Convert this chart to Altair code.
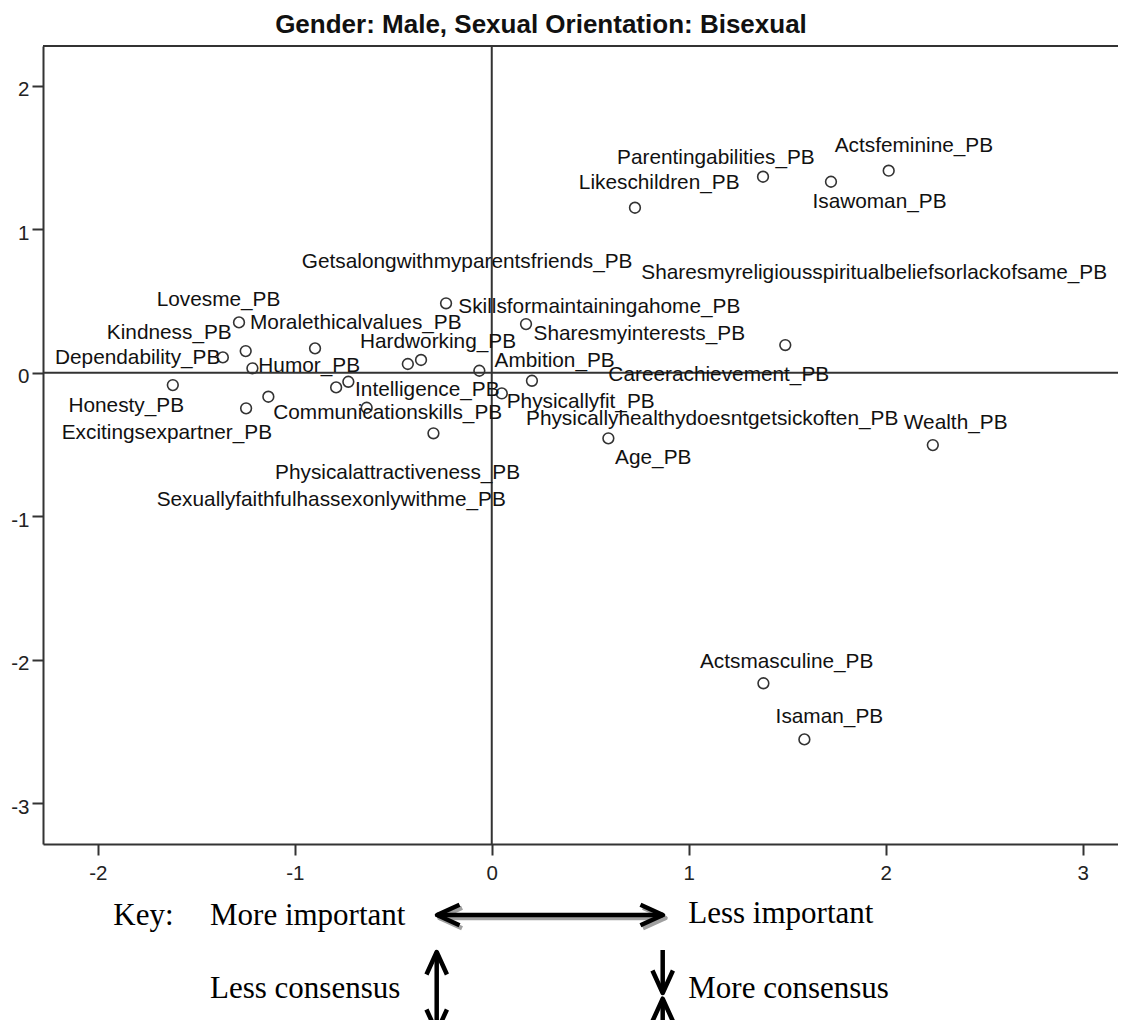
import altair as alt
import pandas as pd

# ---------------- data ----------------
names = [
    "Actsfeminine_PB", "Isawoman_PB", "Parentingabilities_PB", "Likeschildren_PB",
    "Skillsformaintainingahome_PB", "Sharesmyinterests_PB", "Dependability_PB", "Humor_PB",
    "Physicallyfit_PB", "Age_PB", "Wealth_PB", "Actsmasculine_PB", "Isaman_PB",
    "Lovesme_PB", "Kindness_PB", "Moralethicalvalues_PB", "Getsalongwithmyparentsfriends_PB",
    "Hardworking_PB", "Ambition_PB", "Honesty_PB", "Intelligence_PB", "Careerachievement_PB",
    "Communicationskills_PB", "Physicallyhealthydoesntgetsickoften_PB", "Excitingsexpartner_PB",
    "Sexuallyfaithfulhassexonlywithme_PB", "Physicalattractiveness_PB",
    "Sharesmyreligiousspiritualbeliefsorlackofsame_PB",
]
dim1 = [2.015, 1.722, 1.377, 0.727, -0.232, 0.174, -1.365, -1.215, 0.051, 0.592, 2.239,
        1.379, 1.587, -1.283, -1.249, -0.897, -0.426, -0.359, -0.063, -1.619, -0.728,
        0.204, -1.134, -0.790, -1.247, -0.635, -0.296, 1.490]
dim2 = [1.408, 1.331, 1.366, 1.150, 0.484, 0.339, 0.107, 0.031, -0.144, -0.457, -0.504,
        -2.164, -2.555, 0.351, 0.151, 0.170, 0.061, 0.089, 0.014, -0.086, -0.063,
        -0.056, -0.167, -0.102, -0.248, -0.244, -0.422, 0.193]
# where each point's label starts (left edge, vertical centre), in data units
label_x = [1.741, 1.628, 0.636, 0.442, -0.170, 0.212, -2.217, -1.185, 0.076, 0.626, 2.092,
           1.057, 1.441, -1.701, -1.954, -1.227, -0.964, -0.669, 0.014, -2.149, -0.694,
           0.592, -1.109, 0.174, -2.183, -1.701, -1.100, 0.759]
label_y = [1.580, 1.192, 1.494, 1.320, 0.460, 0.270, 0.100, 0.047, -0.202, -0.597, -0.353,
           -2.014, -2.401, 0.507, 0.275, 0.344, 0.774, 0.216, 0.084, -0.232, -0.121,
           -0.016, -0.283, -0.325, -0.422, -0.887, -0.701, 0.693]

x_ticks = [-2, -1, 0, 1, 2, 3]
y_ticks = [-3, -2, -1, 0, 1, 2]
x_domain = [-2.278, 3.179]
y_domain = [-3.284, 2.277]
title_text = "Gender: Male, Sexual Orientation: Bisexual"
key_labels = ["Key:", "More important", "Less important", "Less consensus", "More consensus"]

df = pd.DataFrame({"name": names, "dim1": dim1, "dim2": dim2, "lx": label_x, "ly": label_y})

# ---------------- layout / style ----------------
W, H = 1075, 798
SANS = "Liberation Sans"
SERIF = "Liberation Serif"
INK = "#222222"
LINE = "#333333"

xs = alt.Scale(domain=x_domain, nice=False, zero=False)
ys = alt.Scale(domain=y_domain, nice=False, zero=False)

x_axis = alt.Axis(values=x_ticks, title=None, grid=False, tickSize=11, labelPadding=8,
                  labelExpr="datum.value + ''")
y_axis = alt.Axis(values=y_ticks, title=None, grid=False, tickSize=11, labelPadding=3,
                  labelOffset=4, labelExpr="datum.value + ''")

one = alt.Data(values=[{}])

top_frame = alt.Chart(one).mark_rule(color=LINE, strokeWidth=2).encode(
    x=alt.value(0), x2=alt.value(W), y=alt.value(0))
zero_v = alt.Chart(one).mark_rule(color=LINE, strokeWidth=2).encode(
    x=alt.datum(0, scale=xs))
zero_h = alt.Chart(one).mark_rule(color=LINE, strokeWidth=2).encode(
    y=alt.datum(0, scale=ys))

title = alt.Chart(one).mark_text(text=title_text, align="center", baseline="alphabetic",
                                 font=SANS, fontSize=26, fontWeight="bold",
                                 color="#111111").encode(
    x=alt.value(498), y=alt.value(-13))

points = alt.Chart(df).mark_point(shape="circle", size=115, filled=False,
                                  stroke=LINE, strokeWidth=1.6, opacity=1).encode(
    x=alt.X("dim1:Q", scale=xs, axis=x_axis),
    y=alt.Y("dim2:Q", scale=ys, axis=y_axis),
)
labels = alt.Chart(df).mark_text(align="left", baseline="middle", font=SANS,
                                 fontSize=20.8, color="#111111").encode(
    x=alt.X("lx:Q", scale=xs),
    y=alt.Y("ly:Q", scale=ys),
    text="name:N",
)

# ---------------- key (annotation below the plot, pixel layout) ----------------
key_pos = [(70.3, 879), (167, 879), (645.3, 877.3), (167, 952.3), (645.3, 952)]
key_layers = []
for txt, (px, py) in zip(key_labels, key_pos):
    key_layers.append(
        alt.Chart(one).mark_text(text=txt, align="left", baseline="alphabetic", font=SERIF,
                                 fontSize=31, color="#000000").encode(
            x=alt.value(px), y=alt.value(py)))

RIGHT = "M -2.2 -1 L 0 0 L -2.2 1"
LEFT = "M 2.2 -1 L 0 0 L 2.2 1"
UP = "M -1 2.2 L 0 0 L 1 2.2"
DOWN = "M -1 -2.2 L 0 0 L 1 -2.2"


def shaft(x1, y1, x2, y2, color="#000000"):
    return alt.Chart(one).mark_rule(color=color, strokeWidth=4.5).encode(
        x=alt.value(x1), y=alt.value(y1), x2=alt.value(x2), y2=alt.value(y2))


def head(path, px, py, color="#000000"):
    return alt.Chart(one).mark_point(shape=path, size=420, filled=False, stroke=color,
                                     strokeWidth=4.5, opacity=1, strokeJoin="round",
                                     strokeCap="butt").encode(
        x=alt.value(px), y=alt.value(py))


hx1, hx2, hy = 394, 620, 869
arrows = [
    # shadow of the horizontal arrow
    shaft(hx1 + 2.5, hy + 3, hx2 + 2.5, hy + 3, "#a0a0a0"),
    head(LEFT, hx1 + 2.5, hy + 3, "#a0a0a0"),
    head(RIGHT, hx2 + 2.5, hy + 3, "#a0a0a0"),
    # horizontal double arrow
    shaft(hx1, hy, hx2, hy),
    head(LEFT, hx1, hy),
    head(RIGHT, hx2, hy),
    # vertical double arrow (less consensus)
    shaft(393.7, 906, 393.7, 986),
    head(UP, 393.7, 906),
    head(DOWN, 393.7, 986),
    # converging arrows (more consensus)
    shaft(619.7, 904, 619.7, 947),
    head(DOWN, 619.7, 947),
    shaft(619.7, 952.7, 619.7, 995),
    head(UP, 619.7, 952.7),
]

chart = alt.layer(
    zero_v, zero_h, top_frame, title, points, labels, *key_layers, *arrows
).properties(
    width=W,
    height=H,
    autosize=alt.AutoSizeParams(type="none"),
    padding={"left": 35, "top": 38, "right": 0, "bottom": 176},
).configure_view(
    stroke=None
).configure_axis(
    labelFont=SANS, labelFontSize=20.5, labelColor=INK,
    domainColor=LINE, domainWidth=2, tickColor=LINE, tickWidth=2,
)

chart.save("out.html", embed_options={"renderer": "svg", "actions": False})
